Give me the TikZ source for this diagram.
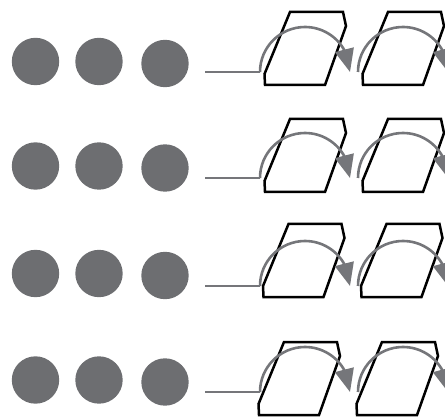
\documentclass[tikz,border=0pt]{standalone}
\usepackage{tikz}
\usetikzlibrary{arrows.meta, bending}
\definecolor{dotgray}{HTML}{6D6E71}
\definecolor{arcgray}{HTML}{75767A}

\begin{document}
\begin{tikzpicture}[x=1pt, y=-1pt,
  dot/.style={circle, fill=dotgray, minimum size=47.4pt, inner sep=0pt},
  lead/.style={draw=arcgray, line width=2.3pt},
  turn/.style={draw=arcgray, line width=2.6pt, -{Triangle[length=23pt, width=19pt]}},
  card/.style={draw=black, line width=2.5pt, line join=miter}]
\path[use as bounding box, clip] (0,0) rectangle (445,417);

% One row each: dot y, lead y, card top-left x and y
\foreach \r/\cy/\ly/\tx/\ty in {1/61.5/72/290/12, 2/166/178/290/119, 3/273.5/286/288.5/224, 4/380/392/284/342} {
  % Three dots
  \node[dot] (a\r) at (35.5,\cy) {};
  \node[dot] (b\r) at (99,\cy) {};
  \node[dot] (c\r) at (165,\cy+2) {};

  % Two slanted cards
  \foreach \k/\dx in {1/0, 2/98} {
    \draw[card] (\tx+\dx,\ty) -- ++(53,0) -- ++(3,14) -- ++(-21,59) -- ++(-60,0) -- ++(-0.5,-11) -- cycle;
  }

  % Lead line and turning arrows
  \coordinate (s\r) at (205,\ly);
  \coordinate (e\r) at (260,\ly);
  \coordinate (f\r) at (358,\ly);
  \draw[lead] (s\r) -- (e\r);
  \draw[turn] (e\r) arc[start angle=180, end angle=360, radius=45];
  \draw[turn] (f\r) arc[start angle=180, end angle=360, radius=45];
}
\end{tikzpicture}
\end{document}
